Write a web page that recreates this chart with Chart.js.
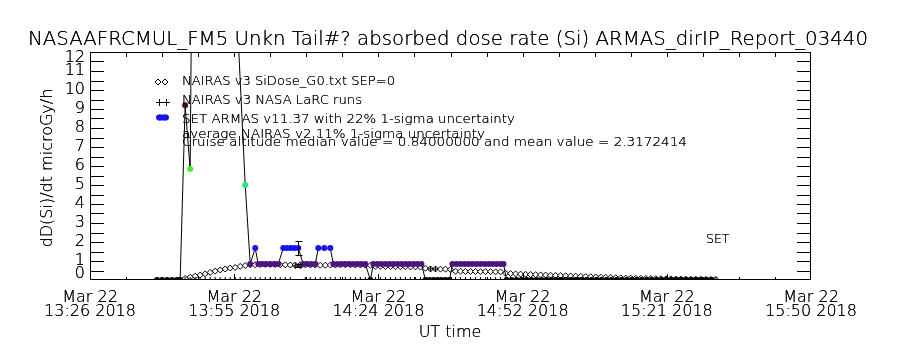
<!DOCTYPE html>
<html>
<head>
<meta charset="utf-8">
<script src="https://cdn.jsdelivr.net/npm/chart.js@4.4.0/dist/chart.umd.min.js"></script>
<style>
  html, body { margin: 0; padding: 0; background: #fff; }
  canvas { display: block; }
</style>
</head>
<body>
<canvas id="chart" width="900" height="350"></canvas>
<script>
const TITLE = "NASAAFRCMUL_FM5 Unkn Tail#? absorbed dose rate (Si) ARMAS_dirIP_Report_03440";
const Y_TITLE = "dD(Si)/dt microGy/h";
const X_TITLE = "UT time";

// x values are minutes after 13:26 UT
const xTickMinutes = [0, 28.8, 57.6, 86.4, 115.2, 144];
const xTickDates = ["Mar 22", "Mar 22", "Mar 22", "Mar 22", "Mar 22", "Mar 22"];
const xTickTimes = ["13:26 2018", "13:55 2018", "14:24 2018", "14:52 2018", "15:21 2018", "15:50 2018"];
const yTicks = [0, 1, 2, 3, 4, 5, 6, 7, 8, 9, 10, 11, 12];

// NAIRAS model runs, one per minute
const gridMinutes = [
  18, 19, 20, 21, 22, 23, 24, 25, 26, 27, 28, 29, 30, 31, 32, 33, 34, 35, 36, 37,
  38, 39, 40, 41, 42, 43, 44, 45, 46, 47, 48, 49, 50, 51, 52, 53, 54, 55, 56, 57,
  58, 59, 60, 61, 62, 63, 64, 65, 66, 67, 68, 69, 70, 71, 72, 73, 74, 75, 76, 77,
  78, 79, 80, 81, 82, 83, 84, 85, 86, 87, 88, 89, 90, 91, 92, 93, 94, 95, 96, 97,
  98, 99, 100, 101, 102, 103, 104, 105, 106, 107, 108, 109, 110, 111, 112, 113, 114, 115, 116, 117,
  118, 119, 120, 121, 122, 123, 124, 125
];
const nairasG0 = [
  0.00, 0.08, 0.15, 0.20, 0.26, 0.32, 0.40, 0.47, 0.53, 0.58, 0.63, 0.66, 0.72, 0.76, 0.80,
  0.80, 0.81, 0.82, 0.82, 0.81, 0.80, 0.80, 0.79, 0.79, 0.80, 0.80, 0.79, 0.79, 0.78, 0.78,
  0.79, 0.79, 0.80, 0.80, 0.80, 0.79, 0.79, 0.78, 0.78,
  0.72, 0.72, 0.71, 0.71, 0.70, 0.70, 0.70, 0.69, 0.69, 0.68,
  0.62,
  0.58, 0.58, 0.57, 0.57, 0.56,
  0.46, 0.46, 0.45, 0.45, 0.45, 0.44, 0.44, 0.44, 0.43, 0.43,
  0.36, 0.34, 0.32, 0.31, 0.30, 0.29, 0.28, 0.27, 0.26, 0.25, 0.24, 0.23, 0.22, 0.21, 0.20,
  0.19, 0.18, 0.17, 0.16, 0.15, 0.14, 0.13, 0.12, 0.11, 0.10, 0.10, 0.09, 0.09, 0.08, 0.08,
  0.07, 0.07, 0.06, 0.06, 0.05, 0.05, 0.05, 0.04, 0.04, 0.04, 0.03, 0.03, 0.03
];
const nairasLarc = [
  0, 0, 0, 0, 0, 0, 0, 0, 0, 0,
  0, 0, 0, 0, 0, 0, 0, 0, 0, 0,
  0, 0, 0, 0.74, 0.74, 0, 0, 0, 0, 0,
  0, 0, 0, 0, 0, 0, 0, 0, 0, 0,
  0, 0, 0, 0, 0, 0, 0, 0, 0, 0,
  0.58, 0.58, 0, 0, 0, 0, 0, 0, 0, 0,
  0, 0, 0, 0, 0, 0, 0, 0, 0, 0,
  0, 0, 0, 0, 0, 0, 0, 0, 0, 0,
  0, 0, 0, 0, 0, 0, 0, 0, 0, 0,
  0, 0, 0, 0, 0, 0, 0, 0, 0, 0,
  0, 0, 0, 0, 0, 0, 0, 0
];

// ARMAS measurements
const armasMinutes = [
  13.4, 14.4, 15.4, 16.4, 17.4, 18.0,
  19.0, 20.0, 20.6, 25.0, 29.0, 31.0,
  32.0, 33.0, 33.6, 34.4, 35.2, 36.0, 36.8, 37.6,
  38.6, 39.35, 40.1, 40.85, 41.6,
  42.6, 43.4, 44.2, 45.0,
  45.6, 46.8, 48.0,
  48.6, 49.4, 50.2, 51.0, 51.8, 52.6, 53.4, 54.2, 55.0,
  56.0,
  56.6, 57.4, 58.2, 59.0, 59.8, 60.6, 61.4, 62.2, 63.0, 63.8, 64.6, 65.4, 66.2,
  67.0, 67.8, 68.6, 69.4, 70.2, 71.0, 71.8,
  72.4, 73.2, 74.0, 74.8, 75.6, 76.4, 77.2, 78.0, 78.8, 79.6, 80.4, 81.2, 82.0, 82.6,
  83.2, 84.2, 85.2, 86.2, 87.2, 88.2, 89.2, 90.2, 91.2, 92.2, 93.2, 94.2, 95.2, 96.2,
  97.2, 98.2, 99.2, 100.2, 101.2, 102.2, 103.2, 104.2, 105.2, 106.2, 107.2, 108.2, 109.2, 110.2,
  111.2, 112.2, 113.2, 114.2, 115.2, 116.2, 117.2, 118.2, 119.2, 120.2, 121.2, 122.2, 123.2, 124.2
];
const armasDose = [
  0, 0, 0, 0, 0, 0,
  9.2, 5.84, 24, 30, 16, 5.0,
  0.84, 1.68, 0.84, 0.84, 0.84, 0.84, 0.84, 0.84,
  1.68, 1.68, 1.68, 1.68, 1.68,
  0.84, 0.84, 0.84, 0.84,
  1.68, 1.68, 1.68,
  0.84, 0.84, 0.84, 0.84, 0.84, 0.84, 0.84, 0.84, 0.84,
  0,
  0.84, 0.84, 0.84, 0.84, 0.84, 0.84, 0.84, 0.84, 0.84, 0.84, 0.84, 0.84, 0.84,
  0, 0, 0, 0, 0, 0, 0,
  0.84, 0.84, 0.84, 0.84, 0.84, 0.84, 0.84, 0.84, 0.84, 0.84, 0.84, 0.84, 0.84, 0.84,
  0, 0, 0, 0, 0, 0, 0, 0, 0, 0, 0, 0, 0, 0,
  0, 0, 0, 0, 0, 0, 0, 0, 0, 0, 0, 0, 0, 0,
  0, 0, 0, 0, 0, 0, 0, 0, 0, 0, 0, 0, 0, 0
];

// uncertainty bars (22% ARMAS, 11% NAIRAS)
const errMinutes = [41.6, 41.6];
const errCenter = [1.68, 0.76];
const errPercent = [22, 11];

const legendLines = [
  "NAIRAS v3 SiDose_G0.txt SEP=0",
  "NAIRAS v3 NASA LaRC runs",
  "SET ARMAS v11.37 with 22% 1-sigma uncertainty",
  "average NAIRAS v2 11% 1-sigma uncertainty",
  "Cruise altitude median value = 0.84000000 and mean value = 2.3172414"
];
const SET_LABEL = "SET";

const FONT = "200 {size}px 'DejaVu Sans', sans-serif";
const font = size => FONT.replace("{size}", size);

function toXY(xs, ys) {
  return xs.map((v, i) => ({ x: v, y: ys[i] }));
}

function doseColor(v) {
  if (v <= 0) return "#000000";
  if (v >= 9) return "#3a0d33";
  if (v >= 5.5) return "#44ee33";
  if (v >= 3) return "#22e677";
  if (v >= 1.2) return "#1414ee";
  return "#4d137f";
}

// thin font drawn twice so the hairlines come out black like the vector font
function ink(ctx, text, x, y) {
  ctx.fillText(text, x, y);
  ctx.fillText(text, x, y);
}

function fitText(ctx, text, x, y, width) {
  const w = ctx.measureText(text).width;
  ctx.save();
  ctx.translate(x, y);
  ctx.scale(width / w, 1);
  ink(ctx, text, 0, 0);
  ctx.restore();
}

const idlFrame = {
  id: "idlFrame",
  afterDatasetsDraw(chart) {
    const { ctx, chartArea: a, scales: { x, y } } = chart;
    ctx.save();
    ctx.strokeStyle = "#000";
    ctx.fillStyle = "#000";
    ctx.lineWidth = 1;

    // error bars
    errMinutes.forEach((m, i) => {
      const px = Math.round(x.getPixelForValue(m)) + 0.5;
      const half = errCenter[i] * errPercent[i] / 100;
      const top = Math.round(y.getPixelForValue(errCenter[i] + half)) + 0.5;
      const bot = Math.round(y.getPixelForValue(errCenter[i] - half)) + 0.5;
      ctx.beginPath();
      ctx.moveTo(px, top); ctx.lineTo(px, bot);
      ctx.moveTo(px - 3, top); ctx.lineTo(px + 4, top);
      ctx.moveTo(px - 3, bot); ctx.lineTo(px + 4, bot);
      ctx.stroke();
    });

    // plot box
    ctx.strokeRect(a.left + 0.5, a.top + 0.5, a.right - a.left - 1, a.bottom - a.top - 1);

    // y ticks every 0.5, both sides, pointing in
    ctx.beginPath();
    for (let v = 0.5; v < 12; v += 0.5) {
      const py = Math.round(y.getPixelForValue(v)) + 0.5;
      ctx.moveTo(a.left, py); ctx.lineTo(a.left + 14, py);
      ctx.moveTo(a.right, py); ctx.lineTo(a.right - 14, py);
    }
    // x ticks every 7.2 minutes
    for (let m = 7.2; m < 144; m += 7.2) {
      const px = Math.round(x.getPixelForValue(m)) + 0.5;
      const major = xTickMinutes.some(t => Math.abs(t - m) < 0.01);
      ctx.moveTo(px, a.top); ctx.lineTo(px, a.top + 5);
      ctx.moveTo(px, a.bottom); ctx.lineTo(px, a.bottom - (major ? 6 : 3));
    }
    ctx.stroke();

    // y tick labels
    ctx.font = font(16);
    ctx.textAlign = "right";
    ctx.textBaseline = "middle";
    yTicks.forEach(v => {
      let py = y.getPixelForValue(v);
      py = Math.min(Math.max(py, a.top + 6), a.bottom - 6);
      ink(ctx, String(v), a.left - 5, py);
    });

    // x tick labels
    ctx.textAlign = "center";
    ctx.textBaseline = "alphabetic";
    xTickMinutes.forEach((m, i) => {
      const px = x.getPixelForValue(m);
      ink(ctx, xTickDates[i], px, 302);
      ink(ctx, xTickTimes[i], px, 316);
    });

    // axis titles
    ink(ctx, X_TITLE, 450, 337);
    ctx.save();
    ctx.translate(52, 168);
    ctx.rotate(-Math.PI / 2);
    ink(ctx, Y_TITLE, 0, 0);
    ctx.restore();

    // title
    ctx.textAlign = "left";
    ctx.font = font(19);
    fitText(ctx, TITLE, 28, 45, 840);

    // legend text
    ctx.font = font(12.5);
    const legendBase = [85, 104, 123, 138, 146];
    const legendWidth = [213, 180, 333, 303, 505];
    legendLines.forEach((t, i) => fitText(ctx, t, 182, legendBase[i], legendWidth[i]));
    ink(ctx, SET_LABEL, 706, 243);

    // legend symbols
    ctx.fillStyle = "#fff";
    [158, 165].forEach(cx => {
      ctx.beginPath();
      ctx.moveTo(cx, 79); ctx.lineTo(cx + 3, 82); ctx.lineTo(cx, 85); ctx.lineTo(cx - 3, 82); ctx.closePath();
      ctx.fill(); ctx.stroke();
    });
    ctx.beginPath();
    [159, 166].forEach(cx => {
      ctx.moveTo(cx - 3, 102.5); ctx.lineTo(cx + 4, 102.5);
      ctx.moveTo(cx + 0.5, 99); ctx.lineTo(cx + 0.5, 106);
    });
    ctx.stroke();
    ctx.fillStyle = doseColor(1.68);
    ctx.beginPath();
    ctx.arc(159, 117.5, 3, 0, Math.PI * 2);
    ctx.arc(166, 117.5, 3, 0, Math.PI * 2);
    ctx.fill();
    ctx.fillRect(159, 114.5, 7, 6);

    ctx.restore();
  }
};

new Chart(document.getElementById("chart"), {
  type: "line",
  data: {
    datasets: [
      {
        label: "SET ARMAS",
        data: toXY(armasMinutes, armasDose),
        borderColor: "#000",
        borderWidth: 1,
        pointRadius: 3,
        pointBorderWidth: 0,
        pointBackgroundColor: c => doseColor(c.raw.y),
        clip: 0,
        order: 0
      },
      {
        label: "NAIRAS v3 NASA LaRC runs",
        data: toXY(gridMinutes, nairasLarc),
        showLine: false,
        pointStyle: "cross",
        pointRadius: 3,
        pointBorderWidth: 1,
        pointBorderColor: "#000",
        clip: 0,
        order: 1
      },
      {
        label: "NAIRAS v3 SiDose_G0",
        data: toXY(gridMinutes, nairasG0),
        borderColor: "#000",
        borderWidth: 1,
        pointStyle: "rectRot",
        pointRadius: 3,
        pointBorderWidth: 1,
        pointBorderColor: "#000",
        pointBackgroundColor: "#fff",
        clip: 0,
        order: 2
      }
    ]
  },
  options: {
    responsive: false,
    animation: false,
    devicePixelRatio: 1,
    layout: { padding: { left: 90, right: 89, top: 52, bottom: 70 } },
    elements: { line: { tension: 0 } },
    scales: {
      x: { type: "linear", min: 0, max: 144, display: false },
      y: { type: "linear", min: 0, max: 12, display: false }
    },
    plugins: {
      legend: { display: false },
      tooltip: { enabled: false }
    }
  },
  plugins: [idlFrame]
});
</script>
</body>
</html>
